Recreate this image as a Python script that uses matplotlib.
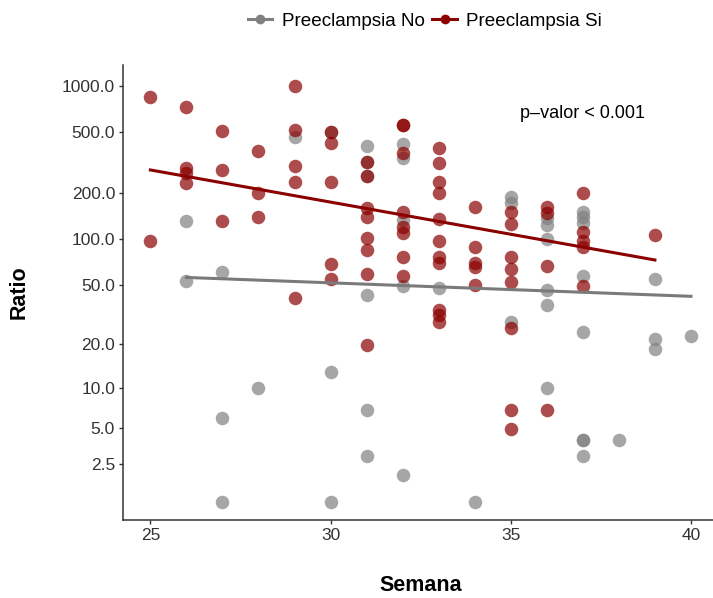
import matplotlib
matplotlib.use("Agg")
import matplotlib.pyplot as plt
import numpy as np
from matplotlib.lines import Line2D

# Datos (semana de gestacion y ratio)
semana_no = [26, 26, 27, 27, 27, 28, 29, 30, 30, 30,
             31, 31, 31, 31, 31, 31, 32, 32, 32, 32, 32, 33, 34,
             35, 35, 35, 36, 36, 36, 36, 36, 36,
             37, 37, 37, 37, 37, 37, 37, 37, 38, 39, 39, 39, 40]
ratio_no = [132, 53, 61, 5.95, 1.0, 9.9, 467, 500, 12.8, 1.0,
            405, 318, 258, 43, 6.9, 2.95, 416, 340, 134, 49, 2.0, 48, 1.0,
            189, 172, 28.5, 137, 124, 100, 46, 37, 9.9,
            151, 140, 127, 57, 24.4, 4.0, 4.0, 2.95, 4.0, 54.7, 21.6, 18.6, 22.8]

semana_si = [25, 25, 26, 26, 26, 26, 27, 27, 27, 28, 28, 28,
             29, 29, 29, 29, 29, 30, 30, 30, 30, 30,
             31, 31, 31, 31, 31, 31, 31, 31,
             32, 32, 32, 32, 32, 32, 32, 32,
             33, 33, 33, 33, 33, 33, 33, 33, 33, 33, 33,
             34, 34, 34, 34, 34,
             35, 35, 35, 35, 35, 35, 35, 35,
             36, 36, 36, 36, 37, 37, 37, 37, 37, 39]
ratio_si = [848, 98, 730, 290, 269, 232, 508, 283, 132, 377, 199, 140,
            992, 515, 302, 237, 41, 500, 426, 237, 68.5, 55,
            318, 258, 161, 140, 102, 85, 59, 19.8,
            555, 555, 364, 150, 121, 109, 76, 57,
            392, 313, 235, 199, 136, 98, 76, 70, 34, 31.6, 28.2,
            162, 89, 70, 66, 50,
            151, 126, 76, 64, 52.6, 25.7, 6.9, 4.93,
            162, 148, 66.7, 6.9, 201, 112, 98, 89, 49, 107]

# Rectas de regresion (extremos)
recta_no_x = [26, 40]
recta_no_y = [56, 42]
recta_si_x = [25, 39]
recta_si_y = [283, 73]

ticks_y = [2.5, 5, 10, 20, 50, 100, 200, 500, 1000]
ticks_x = [25, 30, 35, 40]

color_no = "#808080"
color_si = "#8B0000"

plt.rcParams['font.family'] = ['Liberation Sans', 'DejaVu Sans']

fig = plt.figure(figsize=(7.13, 5.98), dpi=100)
ax = fig.add_axes([0.173, 0.1304, 0.834, 0.761])

# Escala log(1 + y)
ax.set_yscale('function', functions=(lambda y: np.log10(np.asarray(y) + 1),
                                     lambda v: 10 ** np.asarray(v) - 1))

ax.scatter(semana_no, ratio_no, s=95, color=color_no, alpha=0.7, linewidths=0, zorder=2)
ax.scatter(semana_si, ratio_si, s=95, color=color_si, alpha=0.7, linewidths=0, zorder=2)
ax.plot(recta_no_x, recta_no_y, color="#7a7a7a", linewidth=2.2, zorder=3)
ax.plot(recta_si_x, recta_si_y, color=color_si, linewidth=2.2, zorder=3)

ax.set_xlim(24.25, 40.75)
ax.set_ylim(0.52, 1363)
ax.set_xticks(ticks_x)
ax.set_xticklabels([str(t) for t in ticks_x])
ax.set_yticks(ticks_y)
ax.set_yticklabels(["%.1f" % t for t in ticks_y])
ax.minorticks_off()

for lado in ["top", "right"]:
    ax.spines[lado].set_visible(False)
for lado in ["left", "bottom"]:
    ax.spines[lado].set_color("#333333")
    ax.spines[lado].set_linewidth(1.1)
ax.tick_params(axis="both", length=3, width=1, color="#333333",
               labelsize=12.5, labelcolor="#333333", pad=3)

ax.set_xlabel("Semana", fontweight="bold", fontsize=15.5, labelpad=23)
ax.set_ylabel("Ratio", fontweight="bold", fontsize=15.5, labelpad=23)

ax.text(36.99, 661, "p\u2013valor < 0.001", fontsize=13, ha="center", va="center")

# Leyenda arriba
handles = [Line2D([0], [0], color=color_no, linewidth=2.2, marker="o", markersize=7,
                  markeredgewidth=0),
           Line2D([0], [0], color=color_si, linewidth=2.2, marker="o", markersize=7,
                  markeredgewidth=0)]
fig.legend(handles, ["Preeclampsia No", "Preeclampsia Si"], loc="center",
           bbox_to_anchor=(0.596, 0.965), ncol=2, frameon=False, fontsize=13.6,
           handlelength=1.3, handletextpad=0.5, columnspacing=0.4)

plt.savefig("out.png", dpi=100)
